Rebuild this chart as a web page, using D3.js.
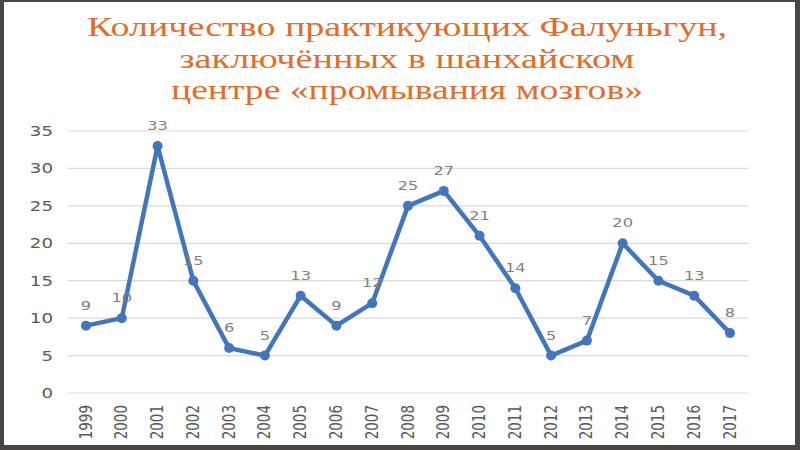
<!DOCTYPE html>
<html>
<head>
<meta charset="utf-8">
<script src="https://cdn.jsdelivr.net/npm/d3@7"></script>
<style>
  body { margin: 0; background: #4a4644; }
  svg { display: block; }
  .tick-y, .tick-x { font-family: "DejaVu Sans", sans-serif; fill: #595959; }
  .value { font-family: "DejaVu Sans", sans-serif; fill: #7f7f7f; }
  .title { font-family: "Liberation Serif", serif; fill: #e36c2a; }
</style>
</head>
<body>
<svg id="chart"></svg>
<script>
const years = ["1999","2000","2001","2002","2003","2004","2005","2006","2007","2008",
  "2009","2010","2011","2012","2013","2014","2015","2016","2017"];
const counts = [9, 10, 33, 15, 6, 5, 13, 9, 12, 25, 27, 21, 14, 5, 7, 20, 15, 13, 8];
const yTicks = [0, 5, 10, 15, 20, 25, 30, 35];
const titleLines = [
  "Количество практикующих Фалуньгун,",
  "заключённых в шанхайском",
  "центре «промывания мозгов»"
];

const W = 800, H = 450;
const svg = d3.select("#chart").attr("width", W).attr("height", H);

// white page inside the dark frame
svg.append("rect")
  .attr("x", 4).attr("y", 2)
  .attr("width", 791).attr("height", 443)
  .attr("fill", "#fff");

// title
const titleWidths = [640, 455, 472];
svg.selectAll(".title")
  .data(titleLines)
  .enter()
  .append("text")
  .attr("class", "title")
  .attr("x", 407)
  .attr("y", (d, i) => 36 + i * 31.5)
  .attr("text-anchor", "middle")
  .attr("font-size", 28)
  .attr("textLength", (d, i) => titleWidths[i])
  .attr("lengthAdjust", "spacingAndGlyphs")
  .text((d) => d);

const xScale = d3.scalePoint().domain(years).range([86, 730]);
const yScale = d3.scaleLinear().domain([0, 35]).range([393, 131]);

// gridlines
svg.append("g")
  .selectAll("line")
  .data(yTicks)
  .enter()
  .append("line")
  .attr("x1", 68).attr("x2", 748)
  .attr("y1", (d) => yScale(d)).attr("y2", (d) => yScale(d))
  .attr("stroke", "#d9d9d9")
  .attr("stroke-width", 1.2);

// y labels (source image is stretched horizontally)
svg.append("g")
  .selectAll("text")
  .data(yTicks)
  .enter()
  .append("text")
  .attr("class", "tick-y")
  .attr("font-size", 13.5)
  .attr("text-anchor", "end")
  .attr("transform", (d) => `translate(53, ${yScale(d) + 5}) scale(1.35, 1)`)
  .text((d) => d);

// x labels
svg.append("g")
  .selectAll("text")
  .data(years)
  .enter()
  .append("text")
  .attr("class", "tick-x")
  .attr("font-size", 13.5)
  .attr("text-anchor", "end")
  .attr("transform", (d) => `translate(${xScale(d) + 5.5}, 405) scale(1.35, 1) rotate(-90)`)
  .text((d) => d);

const series = years.map((y, i) => ({ year: y, value: counts[i] }));

svg.append("path")
  .datum(series)
  .attr("fill", "none")
  .attr("stroke", "#4176bd")
  .attr("stroke-width", 4.5)
  .attr("stroke-linejoin", "round")
  .attr("d", d3.line().x((d) => xScale(d.year)).y((d) => yScale(d.value)));

svg.append("g")
  .selectAll("circle")
  .data(series)
  .enter()
  .append("circle")
  .attr("cx", (d) => xScale(d.year))
  .attr("cy", (d) => yScale(d.value))
  .attr("r", 5)
  .attr("fill", "#4176bd");

svg.append("g")
  .selectAll("text")
  .data(series)
  .enter()
  .append("text")
  .attr("class", "value")
  .attr("font-size", 12.5)
  .attr("text-anchor", "middle")
  .attr("transform", (d) => `translate(${xScale(d.year)}, ${yScale(d.value) - 16}) scale(1.3, 1)`)
  .text((d) => d.value);
</script>
</body>
</html>
